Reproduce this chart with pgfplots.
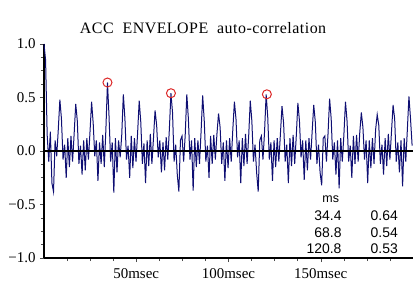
\documentclass[border=0pt]{standalone}
\usepackage{pgfplots}
\pgfplotsset{compat=1.18}
\usepackage{fontspec}
\setmainfont{Liberation Serif}
\newfontfamily\titlefont{Liberation Serif}[LetterSpace=3]
\newfontfamily\tabfont{Liberation Sans}
\definecolor{sig}{RGB}{15,15,115}
\definecolor{pk}{RGB}{220,40,40}
\begin{document}
\begin{tikzpicture}
\begin{axis}[
  scale only axis, width=369bp, height=214bp,
  xmin=0, xmax=200, ymin=-1, ymax=1,
  axis x line*=bottom, axis y line*=left,
  axis line style={line width=1.8bp, black},
  xtick={50,100,150}, xticklabels={50msec,100msec,150msec},
  minor xtick={12.5,25,37.5,62.5,75,87.5,112.5,125,137.5,162.5,175,187.5},
  ytick={-1,-0.5,0,0.5,1}, yticklabels={−1.0,−0.5,0.0,0.5,1.0},
  minor ytick={-0.875,-0.75,-0.625,-0.375,-0.25,-0.125,0.125,0.25,0.375,0.625,0.75,0.875},
  tick align=outside, major tick length=4bp, minor tick length=3bp,
  tick style={black!70, line width=0.5bp},
  ticklabel style={font=\fontsize{15}{17}\selectfont},
  xticklabel style={yshift=-3.5bp},
  yticklabel style={xshift=-1bp},
  clip=false,
]
\addplot[sig, line width=1bp] table {
x y
0 1.0
0.86 0.85
1.72 0.15
2.58 -0.1
3.44 0.18
4.3 -0.3
5.16 -0.38
6.02 0.1
6.88 -0.05
7.74 0.2
8.6 0.48
9.46 0.30
10.32 -0.08
11.18 0.06
12.04 -0.25
12.9 0.12
13.76 -0.15
14.62 0.14
15.48 -0.1
16.34 0.16
17.2 0.44
18.06 0.28
18.92 -0.12
19.78 0.05
20.64 -0.22
21.5 0.1
22.36 -0.18
23.22 0.12
24.08 -0.08
24.94 0.18
25.8 0.46
26.66 0.26
27.52 -0.05
28.38 0.1
29.24 -0.28
30.1 0.08
30.96 -0.12
31.82 0.15
32.68 -0.15
33.54 0.2
34.4 0.64
35.26 0.32
36.12 -0.1
36.98 0.08
37.84 -0.39
38.7 0.12
39.56 -0.2
40.42 0.1
41.28 -0.06
42.14 0.15
43 0.53
43.86 0.3
44.72 -0.08
45.58 0.05
46.44 -0.25
47.3 0.14
48.16 -0.16
49.02 0.12
49.88 -0.1
50.74 0.17
51.6 0.47
52.46 0.27
53.32 -0.12
54.18 0.07
55.04 -0.3
55.9 0.1
56.76 -0.14
57.62 0.16
58.48 -0.12
59.34 0.12
60.2 0.38
61.06 0.24
61.92 -0.06
62.78 0.1
63.64 -0.2
64.5 0.08
65.36 -0.18
66.22 0.13
67.08 -0.08
67.94 0.2
68.8 0.54
69.66 0.36
70.52 -0.1
71.38 0.06
72.24 -0.22
73.1 -0.38
73.96 0.1
74.82 0.14
75.68 -0.1
76.54 0.15
77.4 0.53
78.26 0.3
79.12 -0.08
79.98 0.1
80.84 -0.37
81.7 0.12
82.56 -0.15
83.42 0.1
84.28 -0.12
85.14 0.18
86 0.52
86.86 0.28
87.72 -0.1
88.58 0.05
89.44 -0.25
90.3 0.14
91.16 -0.12
92.02 0.15
92.88 -0.08
93.74 0.16
94.6 0.35
95.46 0.22
96.32 -0.12
97.18 0.08
98.04 -0.28
98.9 0.1
99.76 -0.16
100.62 0.12
101.48 -0.1
102.34 0.2
103.2 0.46
104.06 0.3
104.92 -0.06
105.78 0.1
106.64 -0.3
107.5 0.12
108.36 -0.14
109.22 0.16
110.08 -0.12
110.94 0.14
111.8 0.47
112.66 0.28
113.52 -0.1
114.38 0.06
115.24 -0.2
116.1 -0.38
116.96 0.1
117.82 0.14
118.68 -0.08
119.54 0.18
120.4 0.53
121.26 0.32
122.12 -0.08
122.98 0.08
123.84 -0.28
124.7 0.1
125.56 -0.15
126.42 0.12
127.28 -0.1
128.14 0.16
129 0.42
129.86 0.26
130.72 -0.1
131.58 0.06
132.44 -0.3
133.3 0.12
134.16 -0.14
135.02 0.15
135.88 -0.12
136.74 0.14
137.6 0.45
138.46 0.28
139.32 -0.06
140.18 0.1
141.04 -0.27
141.9 0.1
142.76 -0.18
143.62 0.12
144.48 -0.08
145.34 0.18
146.2 0.43
147.06 0.27
147.92 -0.12
148.78 0.06
149.64 -0.2
150.5 -0.32
151.36 0.12
152.22 0.14
153.08 -0.1
153.94 0.16
154.8 0.49
155.66 0.3
156.52 -0.08
157.38 0.08
158.24 -0.22
159.1 0.1
159.96 -0.35
160.82 0.12
161.68 -0.1
162.54 0.15
163.4 0.46
164.26 0.28
165.12 -0.1
165.98 0.05
166.84 -0.25
167.7 0.14
168.56 -0.12
169.42 0.15
170.28 -0.1
171.14 0.17
172 0.36
172.86 0.22
173.72 -0.08
174.58 0.1
175.44 -0.3
176.3 0.1
177.16 -0.16
178.02 0.12
178.88 -0.12
179.74 0.2
180.6 0.34
181.46 0.24
182.32 -0.12
183.18 0.06
184.04 -0.22
184.9 0.12
185.76 -0.14
186.62 0.16
187.48 -0.08
188.34 0.18
189.2 0.43
190.06 0.3
190.92 -0.1
191.78 0.08
192.64 -0.2
193.5 0.1
194.36 -0.33
195.22 0.12
196.08 -0.1
196.94 0.2
197.8 0.51
198.66 0.3
199.52 0.05
};
\addplot[black, line width=1.1bp] coordinates {(0,0) (200,0)};
\addplot[only marks, mark=o, mark size=4.5bp, pk, mark options={line width=1bp}] coordinates {(34.4,0.64) (68.8,0.54) (120.8,0.53)};
\node[anchor=base, font=\titlefont\fontsize{16}{18}\selectfont] at (rel axis cs:0.431,1.051) {ACC\ \ ENVELOPE\ \ auto-correlation};
\begin{scope}[every node/.style={font=\tabfont\fontsize{14}{16}\selectfont, inner sep=0pt}]
\node[font=\tabfont\fontsize{12.5}{14}\selectfont] at (axis cs:155.4,-0.449) {ms};
\node[anchor=east] at (axis cs:161.4,-0.605) {34.4};
\node[anchor=east] at (axis cs:191.9,-0.605) {0.64};
\node[anchor=east] at (axis cs:161.4,-0.76) {68.8};
\node[anchor=east] at (axis cs:191.9,-0.76) {0.54};
\node[anchor=east, fill=white, inner xsep=1bp, minimum height=15bp] at (axis cs:161.9,-0.916) {120.8};
\node[anchor=east, fill=white, inner xsep=1bp, minimum height=15bp] at (axis cs:192.4,-0.916) {0.53};
\end{scope}
\end{axis}
\pgfresetboundingbox
\useasboundingbox (current axis.south west) ++(-44bp,-24bp) rectangle ++(419bp,282bp);
\end{tikzpicture}
\end{document}
